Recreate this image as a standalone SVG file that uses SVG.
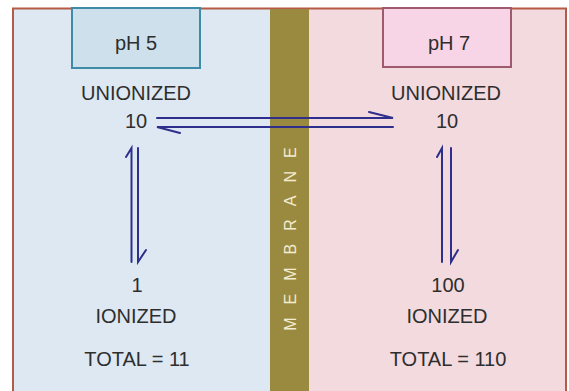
<svg xmlns="http://www.w3.org/2000/svg" width="569" height="391" viewBox="0 0 569 391">
<style>
.lbl{font-family:"Liberation Sans",Arial,sans-serif;font-size:20px;fill:#2e2e2e;text-anchor:middle}
.ph{font-family:"Liberation Sans",Arial,sans-serif;font-size:20px;fill:#2e2e2e;text-anchor:middle}
.arr{stroke:#2e2e8c;stroke-width:2;fill:none;stroke-linecap:round}
</style>
<rect x="0" y="0" width="569" height="391" fill="#ffffff"/>
<g id="left-panel">
<rect x="13" y="8" width="258" height="390" fill="#dde8f3"/>
</g>
<g id="right-panel">
<rect x="309" y="8" width="257" height="390" fill="#f2dadf"/>
</g>
<g id="frame">
<path d="M13,398 V8.5 H566 V398" fill="none" stroke="#b55a45" stroke-width="2"/>
</g>
<g id="membrane">
<rect x="270" y="9" width="39" height="390" fill="#9a8a40"/>
<text transform="translate(296,239) rotate(-90)" x="6.5" y="0" font-family="'Liberation Sans',Arial,sans-serif" font-size="16" fill="#f2ecd2" text-anchor="middle" letter-spacing="13">MEMBRANE</text>
</g>
<g id="ph5">
<rect x="72" y="8" width="128" height="60" fill="#cde0ec" stroke="#3f8ca8" stroke-width="2"/>
<text class="ph" x="136" y="50">pH 5</text>
</g>
<g id="ph7">
<rect x="383" y="8" width="128" height="59" fill="#f8d5e6" stroke="#a05a70" stroke-width="2"/>
<text class="ph" x="449" y="50">pH 7</text>
</g>
<g id="left-unionized">
<text class="lbl" x="136" y="100">UNIONIZED</text>
<text class="lbl" x="136" y="128">10</text>
</g>
<g id="right-unionized">
<text class="lbl" x="446" y="100">UNIONIZED</text>
<text class="lbl" x="447" y="128">10</text>
</g>
<g id="left-ionized">
<text class="lbl" x="137" y="292">1</text>
<text class="lbl" x="136" y="323">IONIZED</text>
<text class="lbl" x="137" y="366">TOTAL = 11</text>
</g>
<g id="right-ionized">
<text class="lbl" x="448" y="292">100</text>
<text class="lbl" x="447" y="323">IONIZED</text>
<text class="lbl" x="448" y="366">TOTAL = 110</text>
</g>
<g id="connectors">
<path class="arr" d="M157,118 H393 L369,112"/>
<path class="arr" d="M393,127 H157 L180,133"/>
<path class="arr" d="M131.5,262 V148 L126,157"/>
<path class="arr" d="M138,148 V262 L146,250"/>
<path class="arr" d="M442,262 V148 L437,157"/>
<path class="arr" d="M451,148 V262 L458,250"/>
</g>
</svg>
